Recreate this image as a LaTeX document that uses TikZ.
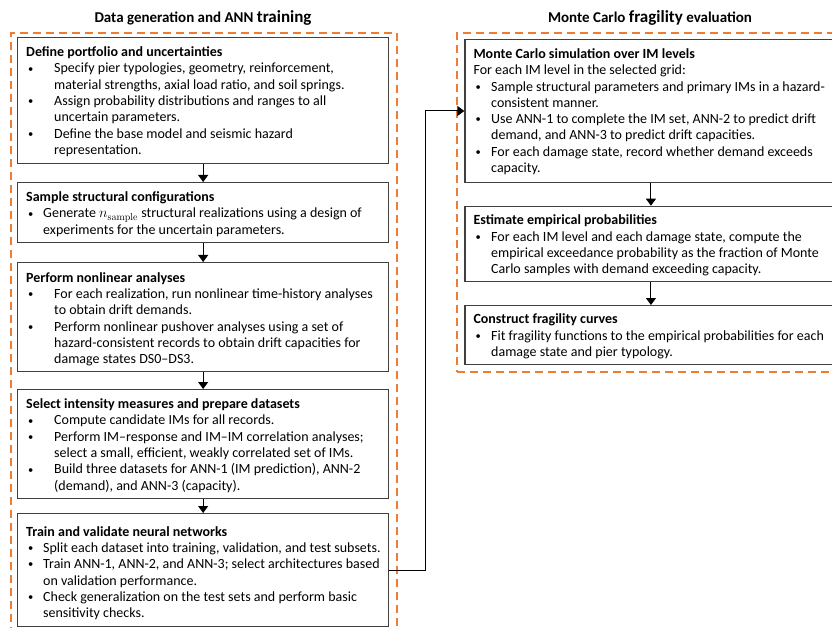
\documentclass[tikz,border=0pt]{standalone}
\usepackage[no-math]{fontspec}
\setmainfont{Carlito}
\usetikzlibrary{arrows.meta}
\definecolor{orng}{HTML}{ED7D31}
\definecolor{bordr}{HTML}{404040}
\newcommand{\bl}[2]{\makebox[#1][l]{\hspace{2pt}\raisebox{0.8pt}{\scalebox{0.75}{\textbullet}}}#2}
\newcommand{\cl}[2]{\hspace*{#1}#2}
\begin{document}
\begin{tikzpicture}[x=1pt,y=-1pt,
 box/.style={draw=bordr, line width=1.3pt, rectangle, inner sep=0pt, anchor=north west},
 txt/.style={anchor=north west, inner sep=0pt, align=left, font=\fontsize{14}{16.3}\selectfont},
 frame/.style={draw=orng, line width=2pt, dash pattern=on 8pt off 5pt, rectangle, inner sep=0pt, anchor=north west},
 arr/.style={draw=black, line width=1pt, -{Triangle[length=7pt,width=10pt]}},
 ttl/.style={font=\fontsize{15}{18}\selectfont\bfseries, inner sep=0pt, anchor=base}]
\useasboundingbox (0,0) rectangle (832,628);
\clip (0,0) rectangle (832,628);
% frames
\node[frame, minimum width=386pt, minimum height=610pt] (fL) at (10,32) {};
\node[frame, minimum width=390pt, minimum height=339pt] (fR) at (456,32) {};
% titles
\node[ttl] (tL) at (203,23) {Data generation and ANN {\fontsize{17}{18}\selectfont training}};
\node[ttl] (tR) at (650,23) {Monte Carlo {\fontsize{17}{18}\selectfont fragility} evaluation};
% left boxes
\node[box, minimum width=371pt, minimum height=126pt] (b1) at (17,37) {};
\node[box, minimum width=371pt, minimum height=60pt] (b2) at (17,182) {};
\node[box, minimum width=371pt, minimum height=109pt] (b3) at (17,262) {};
\node[box, minimum width=371pt, minimum height=109pt] (b4) at (17,389) {};
\node[box, minimum width=371pt, minimum height=113pt] (b5) at (17,513) {};
% right boxes
\node[box, minimum width=372pt, minimum height=142.7pt] (r1) at (464.3,39) {};
\node[box, minimum width=372pt, minimum height=75.3pt] (r2) at (464.3,205.7) {};
\node[box, minimum width=372pt, minimum height=59pt] (r3) at (464.3,305) {};
% texts
\node[txt] (t1) at (26,45) {\textbf{\strut Define portfolio and uncertainties}\\
\bl{28pt}{Specify pier typologies, geometry, reinforcement,}\\
\cl{28pt}{material strengths, axial load ratio, and soil springs.}\\
\bl{28pt}{Assign probability distributions and ranges to all}\\
\cl{28pt}{uncertain parameters.}\\
\bl{28pt}{Define the base model and seismic hazard}\\
\cl{28pt}{representation.}};
\node[txt] (t2) at (26,190) {\textbf{\strut Sample structural configurations}\\
\bl{17pt}{Generate $n_{\mathrm{sample}}$ structural realizations using a design of}\\
\cl{17pt}{experiments for the uncertain parameters.}};
\node[txt] (t3) at (26,270.5) {\textbf{\strut Perform nonlinear analyses}\\
\bl{28pt}{For each realization, run nonlinear time-history analyses}\\
\cl{28pt}{to obtain drift demands.}\\
\bl{28pt}{Perform nonlinear pushover analyses using a set of}\\
\cl{28pt}{hazard-consistent records to obtain drift capacities for}\\
\cl{28pt}{damage states DS0--DS3.}};
\node[txt] (t4) at (26,397) {\textbf{\strut Select intensity measures and prepare datasets}\\
\bl{28pt}{Compute candidate IMs for all records.}\\
\bl{28pt}{Perform IM--response and IM--IM correlation analyses;}\\
\cl{28pt}{select a small, efficient, weakly correlated set of IMs.}\\
\bl{28pt}{Build three datasets for ANN-1 (IM prediction), ANN-2}\\
\cl{28pt}{(demand), and ANN-3 (capacity).}};
\node[txt] (t5) at (26,524.5) {\textbf{\strut Train and validate neural networks}\\
\bl{17pt}{Split each dataset into training, validation, and test subsets.}\\
\bl{17pt}{Train ANN-1, ANN-2, and ANN-3; select architectures based}\\
\cl{17pt}{on validation performance.}\\
\bl{17pt}{Check generalization on the test sets and perform basic}\\
\cl{17pt}{sensitivity checks.}};
\node[txt] (s1) at (473.3,46.8) {\textbf{\strut Monte Carlo simulation over IM levels}\\
For each IM level in the selected grid:\\
\bl{17.7pt}{Sample structural parameters and primary IMs in a hazard-}\\
\cl{17.7pt}{consistent manner.}\\
\bl{17.7pt}{Use ANN-1 to complete the IM set, ANN-2 to predict drift}\\
\cl{17.7pt}{demand, and ANN-3 to predict drift capacities.}\\
\bl{17.7pt}{For each damage state, record whether demand exceeds}\\
\cl{17.7pt}{capacity.}};
\node[txt] (s2) at (473.3,213.3) {\textbf{\strut Estimate empirical probabilities}\\
\bl{17.7pt}{For each IM level and each damage state, compute the}\\
\cl{17.7pt}{empirical exceedance probability as the fraction of Monte}\\
\cl{17.7pt}{Carlo samples with demand exceeding capacity.}};
\node[txt] (s3) at (473.3,312.3) {\textbf{\strut Construct fragility curves}\\
\bl{17.7pt}{Fit fragility functions to the empirical probabilities for each}\\
\cl{17.7pt}{damage state and pier typology.}};
% connectors
\draw[arr] (b1) -- (b2);
\draw[arr] (b2) -- (b3);
\draw[arr] (b3) -- (b4);
\draw[arr] (b4) -- (b5);
\draw[arr] (r1) -- (r2);
\draw[arr] (r2) -- (r3);
\coordinate (k) at (425,570);
\draw[arr] (b5.east) -- (b5.east -| k) |- (r1.west);
\end{tikzpicture}
\end{document}
